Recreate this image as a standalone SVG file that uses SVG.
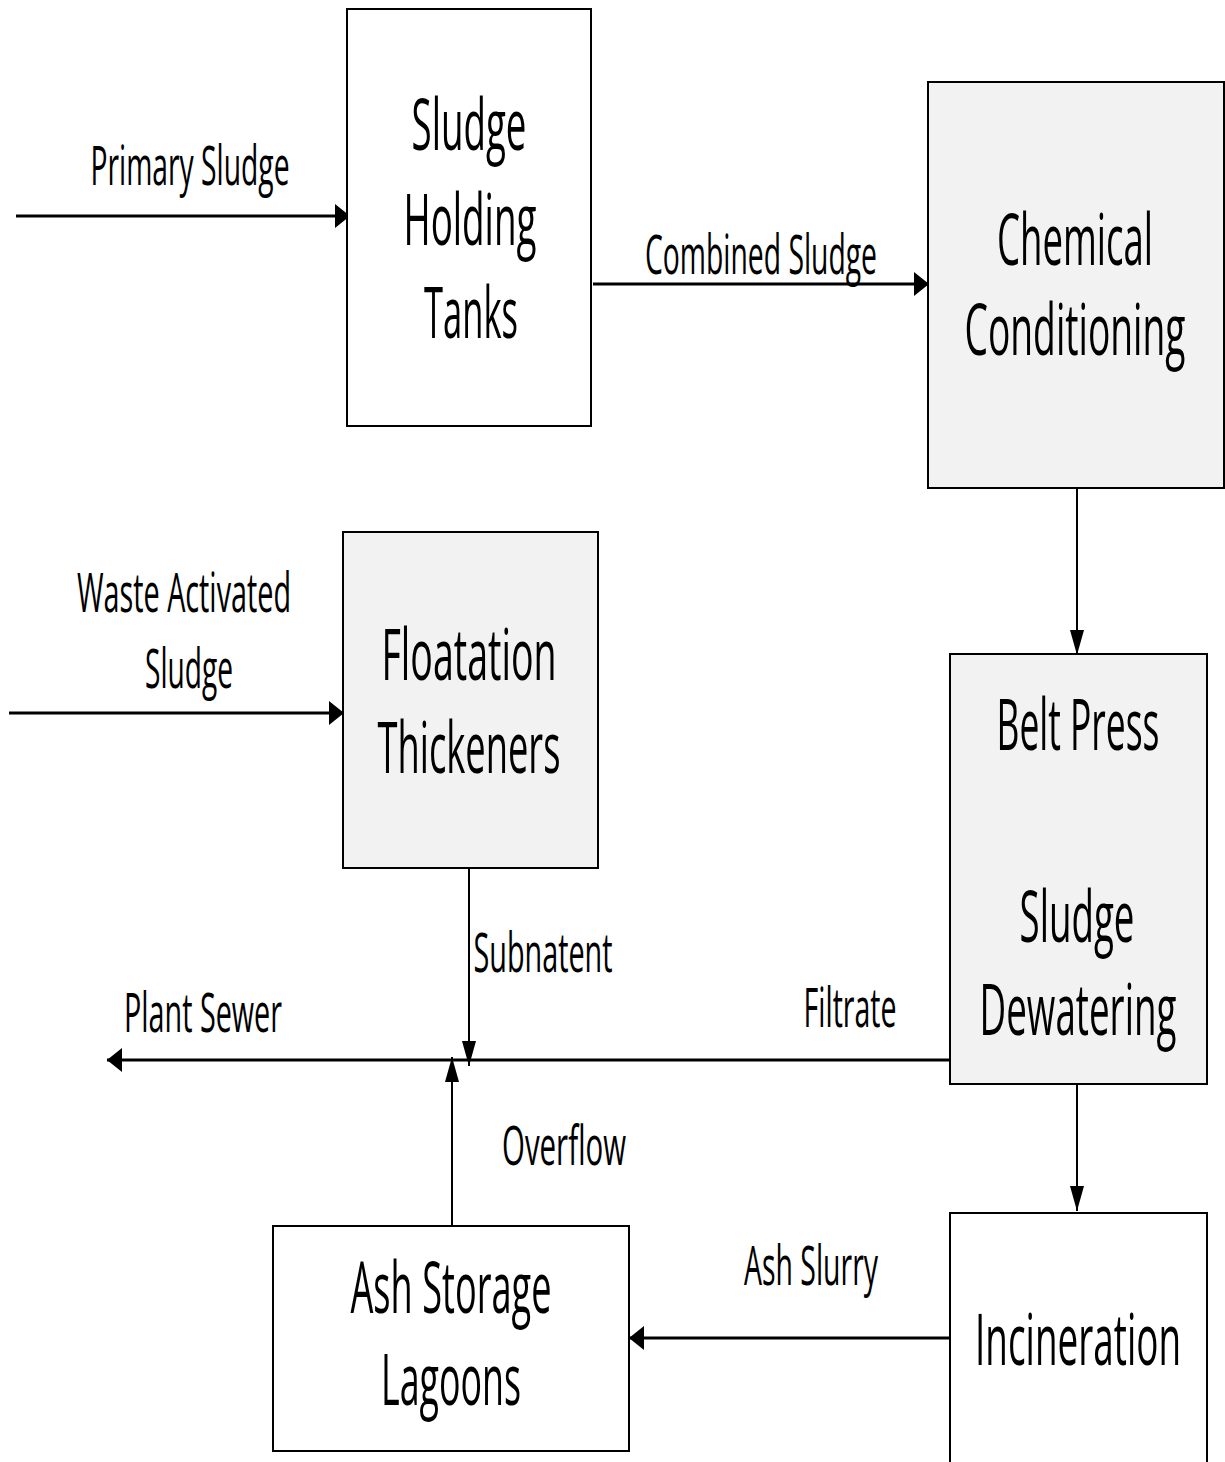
<svg xmlns="http://www.w3.org/2000/svg" width="1225" height="1462" viewBox="0 0 1225 1462">
<style>
.box{stroke:#000;stroke-width:2}
.w{fill:#fff}
.g{fill:#f2f2f2}
.t{font-family:"Open Sans","Liberation Sans",sans-serif;font-size:72px;fill:#000;text-anchor:middle}
.l{font-family:"Open Sans","Liberation Sans",sans-serif;font-size:54px;fill:#000;text-anchor:middle}
.h{stroke:#000;stroke-width:3;fill:none;marker-end:url(#ah)}
.v{stroke:#000;stroke-width:2;fill:none;marker-end:url(#av)}
</style>
<defs>
<marker id="ah" markerUnits="userSpaceOnUse" markerWidth="16" markerHeight="24" refX="15" refY="12" orient="auto">
<path d="M0,0 L15,12 L0,24 z" fill="#000"/>
</marker>
<marker id="av" markerUnits="userSpaceOnUse" markerWidth="26" markerHeight="14" refX="25" refY="7" orient="auto">
<path d="M0,0 L25,7 L0,14 z" fill="#000"/>
</marker>
</defs>
<rect width="1225" height="1462" fill="#fff"/>
<g id="connectors">
<line class="h" x1="16" y1="216" x2="350" y2="216"/>
<line class="h" x1="593" y1="284" x2="929" y2="284"/>
<line class="v" x1="1077" y1="488" x2="1077" y2="655"/>
<line class="h" x1="9" y1="713" x2="344" y2="713"/>
<line class="v" x1="469" y1="868" x2="469" y2="1066"/>
<line class="h" x1="950" y1="1060" x2="107" y2="1060"/>
<line class="v" x1="452" y1="1226" x2="452" y2="1057"/>
<line class="v" x1="1077" y1="1084" x2="1077" y2="1211"/>
<line class="h" x1="950" y1="1338" x2="629" y2="1338"/>
<text class="l" x="190" y="185" textLength="199" lengthAdjust="spacingAndGlyphs">Primary Sludge</text>
<text class="l" x="761" y="274" textLength="232" lengthAdjust="spacingAndGlyphs">Combined Sludge</text>
<text class="l" x="184" y="612" textLength="214" lengthAdjust="spacingAndGlyphs">Waste Activated</text>
<text class="l" x="189" y="688" textLength="88" lengthAdjust="spacingAndGlyphs">Sludge</text>
<text class="l" x="543" y="972" textLength="139" lengthAdjust="spacingAndGlyphs">Subnatent</text>
<text class="l" x="850" y="1027" textLength="93" lengthAdjust="spacingAndGlyphs">Filtrate</text>
<text class="l" x="203" y="1032" textLength="158" lengthAdjust="spacingAndGlyphs">Plant Sewer</text>
<text class="l" x="564" y="1165" textLength="124" lengthAdjust="spacingAndGlyphs">Overflow</text>
<text class="l" x="811" y="1285" textLength="134" lengthAdjust="spacingAndGlyphs">Ash Slurry</text>
</g>
<g id="sludge-holding-tanks">
<rect class="box w" x="347" y="9" width="244" height="417"/>
<text class="t" x="469" y="150" textLength="115" lengthAdjust="spacingAndGlyphs">Sludge</text>
<text class="t" x="470" y="245" textLength="133" lengthAdjust="spacingAndGlyphs">Holding</text>
<text class="t" x="471" y="338" textLength="94" lengthAdjust="spacingAndGlyphs">Tanks</text>
</g>
<g id="chemical-conditioning">
<rect class="box g" x="928" y="82" width="296" height="406"/>
<text class="t" x="1075" y="265" textLength="156" lengthAdjust="spacingAndGlyphs">Chemical</text>
<text class="t" x="1075" y="355" textLength="221" lengthAdjust="spacingAndGlyphs">Conditioning</text>
</g>
<g id="floatation-thickeners">
<rect class="box g" x="343" y="532" width="255" height="336"/>
<text class="t" x="469" y="680" textLength="175" lengthAdjust="spacingAndGlyphs">Floatation</text>
<text class="t" x="469" y="773" textLength="183" lengthAdjust="spacingAndGlyphs">Thickeners</text>
</g>
<g id="belt-press">
<rect class="box g" x="950" y="654" width="257" height="430"/>
<text class="t" x="1078" y="750" textLength="163" lengthAdjust="spacingAndGlyphs">Belt Press</text>
<text class="t" x="1077" y="942" textLength="115" lengthAdjust="spacingAndGlyphs">Sludge</text>
<text class="t" x="1078" y="1035" textLength="197" lengthAdjust="spacingAndGlyphs">Dewatering</text>
</g>
<g id="incineration">
<rect class="box w" x="950" y="1213" width="257" height="260"/>
<text class="t" x="1078" y="1365" textLength="206" lengthAdjust="spacingAndGlyphs">Incineration</text>
</g>
<g id="ash-storage-lagoons">
<rect class="box w" x="273" y="1226" width="356" height="225"/>
<text class="t" x="451" y="1313" textLength="201" lengthAdjust="spacingAndGlyphs">Ash Storage</text>
<text class="t" x="451" y="1405" textLength="140" lengthAdjust="spacingAndGlyphs">Lagoons</text>
</g>
</svg>
